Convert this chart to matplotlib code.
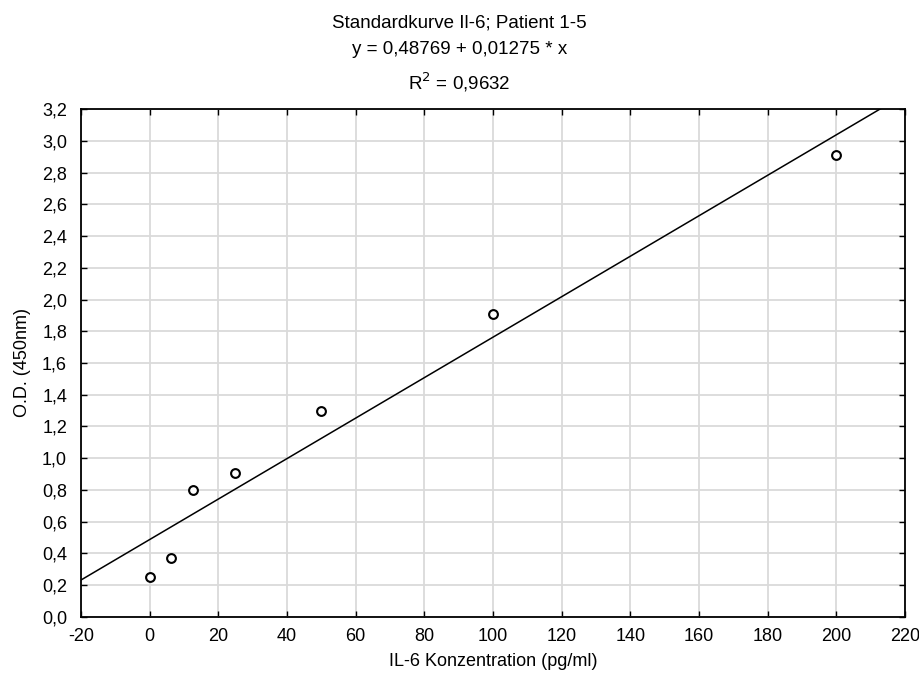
import matplotlib
matplotlib.use("Agg")
import matplotlib.pyplot as plt
from matplotlib.ticker import FuncFormatter, MultipleLocator
import numpy as np

plt.rcParams["font.family"] = ["Liberation Sans", "DejaVu Sans"]
plt.rcParams["axes.unicode_minus"] = False

# IL-6 standards (pg/ml) and measured optical density
conc = [0, 6.25, 12.5, 25, 50, 100, 200]
od = [0.25, 0.37, 0.80, 0.91, 1.30, 1.91, 2.91]

# linear fit as reported
intercept = 0.48769
slope = 0.01275
r2 = 0.9632


def comma(v, _pos):
    return f"{v:.1f}".replace(".", ",")


fig = plt.figure(figsize=(9.19, 6.84), dpi=100)
ax = fig.add_axes([0.0881, 0.098, 0.8967, 0.7426])

xs = np.array([-20, 220])
ax.plot(xs, intercept + slope * xs, color="black", lw=1.1, zorder=3)
ax.scatter(conc, od, s=40, facecolor="white", edgecolor="black", linewidth=1.5, zorder=4)

ax.set_xlim(-20, 220)
ax.set_ylim(0, 3.2)
ax.xaxis.set_major_locator(MultipleLocator(20))
ax.yaxis.set_major_locator(MultipleLocator(0.2))
ax.yaxis.set_major_formatter(FuncFormatter(comma))
ax.grid(True, color="#dadada", lw=1.3)
ax.set_axisbelow(True)
ax.tick_params(direction="in", length=4, width=1, labelsize=13, right=True, top=True)
ax.tick_params(axis="y", pad=10)
ax.tick_params(axis="x", pad=8)
for s in ax.spines.values():
    s.set_linewidth(1.3)

ax.set_xlabel("IL-6 Konzentration (pg/ml)", fontsize=13, labelpad=6)
ax.set_ylabel("O.D. (450nm)", fontsize=13, labelpad=8)

# three-line heading: name, fitted equation, R²
H = 684
eq = f"y = {intercept:.5f} + {slope:.5f} * x".replace(".", ",")
rr = f"R$^2$ = {r2:.4f}".replace(".", ",")
for txt, base in [("Standardkurve Il-6; Patient 1-5", 27), (eq, 54), (rr, 90)]:
    fig.text(0.5, 1 - base / H, txt, ha="center", va="baseline", fontsize=13.5)

fig.savefig("out.png", dpi=100)
